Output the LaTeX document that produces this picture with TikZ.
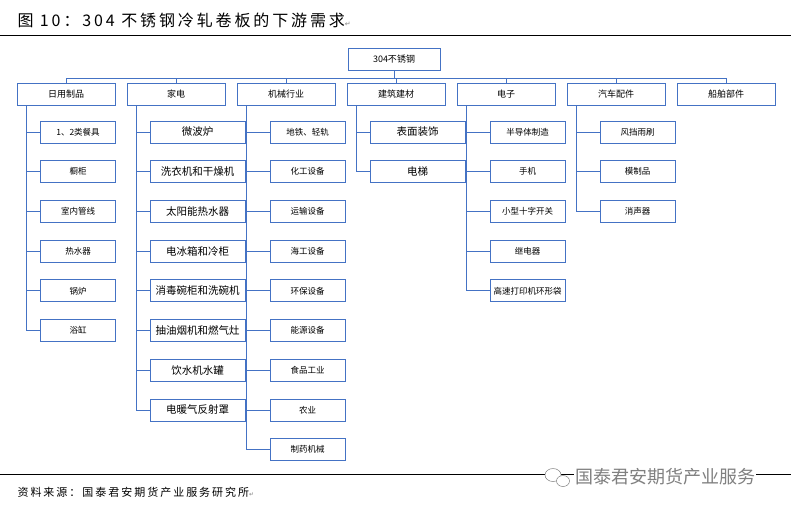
\documentclass[tikz,border=0pt]{standalone}
\usepackage{fontspec}
\setmainfont{Noto Sans CJK SC}
\newfontfamily\dvs{DejaVu Sans}
\newfontfamily\spaced[LetterSpace=18]{Noto Sans CJK SC}
\definecolor{bc}{HTML}{4472C4}
\begin{document}
\begin{tikzpicture}[x=1pt,y=-1pt,
  bx/.style={draw=bc,line width=0.7pt,fill=white,minimum width=98pt,minimum height=22pt,inner sep=0pt,font=\fontsize{9}{10}\selectfont},
  cb/.style={bx,minimum width=75pt,font=\fontsize{8.5}{10}\selectfont},
  cbb/.style={bx,minimum width=95pt,font=\fontsize{10.5}{12}\selectfont},
  ln/.style={draw=bc,line width=0.7pt}]
\useasboundingbox (0,0) rectangle (791,512);
\node[anchor=west,font=\spaced\fontsize{16}{18}\selectfont] (title) at (14,20) {图\ 10：304 不锈钢冷轧卷板的下游需求{\dvs\textcolor{gray}{\fontsize{7}{8}\selectfont ↵}}};
\draw[line width=0.8pt] (0,35) -- (791,35);
\node[bx,minimum width=92pt] (root) at (394,59) {304不锈钢};
\foreach \n/\x/\t in {a/66/日用制品,b/176/家电,c/286/机械行业,d/396/建筑建材,e/506/电子,f/616/汽车配件,g/726/船舶部件}{
  \node[bx] (\n) at (\x,94) {\t};
}
\draw[ln] (root.south) -- (root.south |- 0,78);
\draw[ln] (66,78) -- (726,78);
\foreach \n/\x in {a/66,b/176,c/286,d/396,e/506,f/616,g/726}{\draw[ln] (\x,78) -- (\n.north);}
\newcommand{\famgrp}[4]{%
  \foreach \t [count=\i] in {#4}{
    \node[#3] (#1\i) at ({#2},{132+39.7*(\i-1)}) {\t};
    \draw[ln] (#1.south west) ++(10,0) |- (#1\i.west);
  }}
\famgrp{a}{78}{cb}{{1、2类餐具},橱柜,室内管线,热水器,锅炉,浴缸}
\famgrp{b}{197.5}{cbb}{微波炉,洗衣机和干燥机,太阳能热水器,电冰箱和冷柜,消毒碗柜和洗碗机,抽油烟机和燃气灶,饮水机水罐,电暖气反射罩}
\famgrp{c}{307.5}{cb}{{地铁、轻轨},化工设备,运输设备,海工设备,环保设备,能源设备,食品工业,农业,制药机械}
\famgrp{d}{417.5}{cbb}{表面装饰,电梯}
\famgrp{e}{527.5}{cb}{半导体制造,手机,小型十字开关,继电器,高速打印机环形袋}
\famgrp{f}{637.5}{cb}{风挡雨刷,模制品,消声器}
\draw[line width=0.8pt] (0,474) -- (791,474);
\node[anchor=west,font=\spaced\fontsize{11}{12}\selectfont] (src) at (14,492) {资料来源：国泰君安期货产业服务研究所{\dvs\textcolor{gray}{\fontsize{6}{7}\selectfont ↵}}};
\node[fill=white,anchor=west,text=gray,font=\fontsize{18}{20}\selectfont,inner sep=1pt] (wm) at (574,477) {国泰君安期货产业服务};
\draw[gray,line width=0.5pt,fill=white] (553,475) ellipse (8pt and 6.5pt);
\draw[gray,line width=0.5pt,fill=white] (563,481) ellipse (6.5pt and 5.5pt);
\end{tikzpicture}
\end{document}
